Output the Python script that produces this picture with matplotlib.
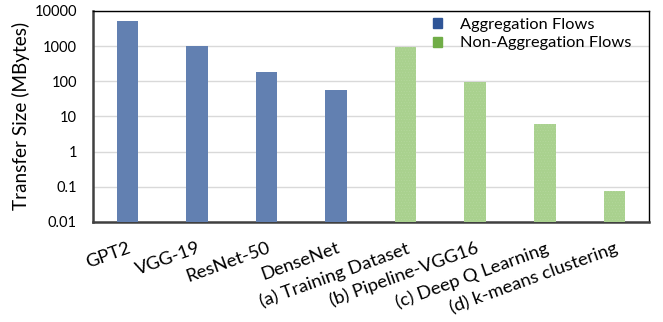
import matplotlib
matplotlib.use("Agg")
import matplotlib.pyplot as plt
import numpy as np
from matplotlib.patches import Patch
from matplotlib.ticker import FixedLocator, FixedFormatter, NullLocator

plt.rcParams["font.family"] = ["Lato", "DejaVu Sans"]
plt.rcParams["hatch.linewidth"] = 0.3

# transfer sizes in MBytes
agg_names = ["GPT2", "VGG-19", "ResNet-50", "DenseNet"]
agg_sizes = [5200, 1030, 185, 57]
nonagg_names = ["(a) Training Dataset", "(b) Pipeline-VGG16",
                "(c) Deep Q Learning", "(d) k-means clustering"]
nonagg_sizes = [960, 98, 6.2, 0.076]
ytick_values = [0.01, 0.1, 1, 10, 100, 1000, 10000]
ytick_labels = ["0.01", "0.1", "1", "10", "100", "1000", "10000"]

agg_bar = "#6280b1"
nonagg_bar = "#a9d18e"
agg_key = "#2f5597"
nonagg_key = "#70ad47"

fig = plt.figure(figsize=(6.63, 3.22), dpi=100)
ax = fig.add_axes([0.140, 0.311, 0.839, 0.655])

n_agg = len(agg_sizes)
x_agg = np.arange(n_agg)
x_non = np.arange(len(nonagg_sizes)) + n_agg
width = 0.31

ax.bar(x_agg, agg_sizes, width=width, color=agg_bar, zorder=3)
ax.bar(x_non, nonagg_sizes, width=width, color=nonagg_bar, zorder=3,
       hatch="......", edgecolor="#b7d9a0", linewidth=0)

ax.set_yscale("log")
ax.set_ylim(ytick_values[0], ytick_values[-1])
ax.set_xlim(-0.5, len(agg_sizes) + len(nonagg_sizes) - 0.5)
ax.yaxis.set_major_locator(FixedLocator(ytick_values))
ax.yaxis.set_major_formatter(FixedFormatter(ytick_labels))
ax.yaxis.set_minor_locator(NullLocator())
ax.grid(axis="y", color="#d9d9d9", linewidth=1.0, zorder=0)

ax.set_xticks(np.concatenate([x_agg, x_non]))
ax.set_xticklabels(agg_names + nonagg_names, rotation=20, ha="right",
                   va="top", rotation_mode="anchor", fontsize=13.3)
ax.tick_params(axis="x", length=0, pad=13)
ax.tick_params(axis="y", length=0, pad=11.5, labelsize=10.5)

ax.set_ylabel("Transfer Size (MBytes)", fontsize=13.6, labelpad=3)

for side in ["left", "bottom"]:
    ax.spines[side].set_color("#404040")
    ax.spines[side].set_linewidth(1.8)
for side in ["top", "right"]:
    ax.spines[side].set_color("#000000")
    ax.spines[side].set_linewidth(1.0)

handles = [Patch(color=agg_key, label="Aggregation Flows"),
           Patch(color=nonagg_key, label="Non-Aggregation Flows")]
ax.legend(handles=handles, loc="upper left", bbox_to_anchor=(0.6, 1.0),
          frameon=False, fontsize=11.8, handlelength=0.55, handleheight=0.55,
          handletextpad=1.1, labelspacing=0.3, borderaxespad=0)

fig.savefig("out.png", dpi=100)
